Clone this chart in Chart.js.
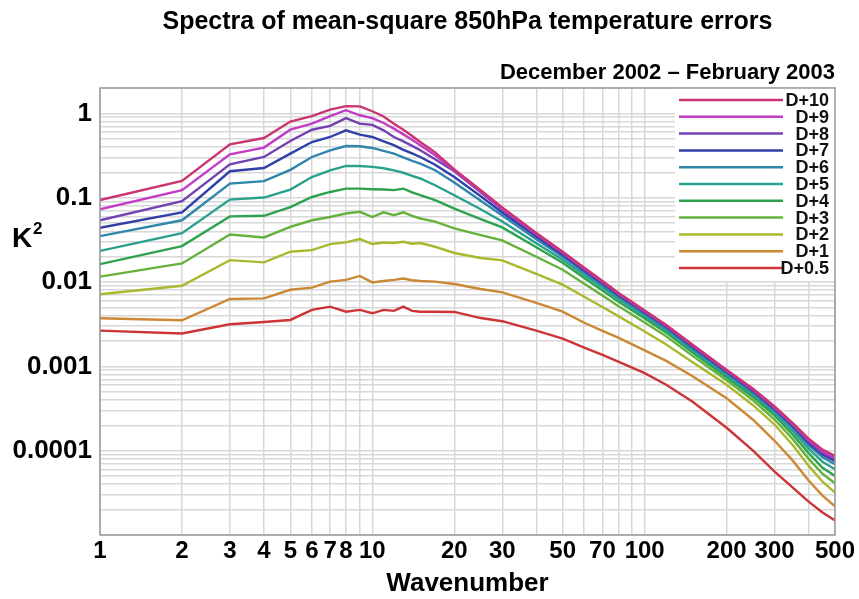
<!DOCTYPE html>
<html>
<head>
<meta charset="utf-8">
<script src="https://cdn.jsdelivr.net/npm/chart.js@4.4.0/dist/chart.umd.min.js"></script>
<style>
  html, body { margin: 0; padding: 0; background: #fff; }
</style>
</head>
<body>
<canvas id="spectra" width="859" height="599"></canvas>
<script>
/*==================== 850hPa temperature error spectra ====================*/
const wavenumbers = [1, 2, 3, 4, 5, 6, 7, 8, 9, 10, 11, 12, 13, 14, 15, 17, 20, 25, 30, 40, 50, 60, 70, 80, 100, 120, 150, 200, 250, 300, 350, 400, 450, 500];

const errD10 = [0.094, 0.158, 0.43, 0.51, 0.80, 0.93, 1.11, 1.22, 1.21, 1.06, 0.92, 0.755, 0.64, 0.54, 0.457, 0.345, 0.217, 0.1227, 0.0766, 0.0383, 0.02284, 0.01476, 0.01027, 0.00747, 0.0046, 0.0031, 0.0018, 0.000909, 0.000542, 0.000334, 0.000212, 0.000139, 0.000103, 0.0000866];
const errD9 = [0.073, 0.123, 0.327, 0.393, 0.641, 0.755, 0.93, 1.09, 0.95, 0.88, 0.77, 0.66, 0.564, 0.486, 0.42, 0.318, 0.2115, 0.1194, 0.0745, 0.03746, 0.0224, 0.01449, 0.0101, 0.00736, 0.00454, 0.00306, 0.00178, 0.000897, 0.000533, 0.000327, 0.000207, 0.000134, 0.0000985, 0.0000825];
const errD8 = [0.054, 0.091, 0.249, 0.304, 0.47, 0.64, 0.71, 0.88, 0.755, 0.73, 0.629, 0.525, 0.466, 0.412, 0.365, 0.2855, 0.206, 0.1162, 0.0725, 0.03646, 0.02193, 0.0142, 0.00991, 0.00722, 0.00445, 0.003, 0.00174, 0.00088, 0.000521, 0.00032, 0.000202, 0.000129, 0.0000943, 0.0000788];
const errD7 = [0.044, 0.067, 0.206, 0.225, 0.333, 0.457, 0.525, 0.63, 0.56, 0.525, 0.466, 0.42, 0.37, 0.336, 0.304, 0.246, 0.176, 0.1042, 0.0668, 0.03455, 0.02104, 0.01371, 0.00959, 0.00701, 0.00436, 0.00294, 0.0017, 0.000861, 0.000509, 0.000311, 0.000195, 0.000124, 0.0000903, 0.0000752];
const errD6 = [0.035, 0.054, 0.147, 0.157, 0.214, 0.304, 0.365, 0.41, 0.407, 0.389, 0.36, 0.333, 0.301, 0.274, 0.254, 0.2115, 0.151, 0.0921, 0.0616, 0.03225, 0.01992, 0.01302, 0.00916, 0.00672, 0.00418, 0.00282, 0.00164, 0.000826, 0.00049, 0.0003, 0.000186, 0.000116, 0.0000834, 0.0000689];
const errD5 = [0.0234, 0.038, 0.095, 0.1005, 0.125, 0.176, 0.211, 0.238, 0.238, 0.232, 0.2235, 0.211, 0.1977, 0.182, 0.169, 0.1406, 0.107, 0.0731, 0.0523, 0.02876, 0.01836, 0.01213, 0.00861, 0.00634, 0.00396, 0.00267, 0.00155, 0.000783, 0.000463, 0.000281, 0.000171, 0.000106, 0.0000738, 0.0000601];
const errD4 = [0.0163, 0.0267, 0.060, 0.061, 0.0775, 0.102, 0.117, 0.128, 0.128, 0.126, 0.125, 0.123, 0.128, 0.116, 0.107, 0.0934, 0.0741, 0.0557, 0.0444, 0.02581, 0.01692, 0.01117, 0.00793, 0.00588, 0.0037, 0.00251, 0.00146, 0.000741, 0.000434, 0.000261, 0.000155, 0.0000935, 0.0000626, 0.00005];
const errD3 = [0.0116, 0.0166, 0.0366, 0.0338, 0.045, 0.054, 0.059, 0.065, 0.068, 0.059, 0.067, 0.062, 0.067, 0.061, 0.0567, 0.052, 0.0432, 0.036, 0.0312, 0.01992, 0.01398, 0.00955, 0.00692, 0.0052, 0.00332, 0.00227, 0.00133, 0.000683, 0.000396, 0.000234, 0.000137, 0.0000805, 0.0000532, 0.0000411];
const errD2 = [0.00715, 0.00904, 0.0182, 0.0171, 0.0229, 0.0239, 0.0282, 0.0295, 0.0323, 0.0282, 0.0294, 0.029, 0.030, 0.0285, 0.029, 0.0262, 0.0221, 0.01926, 0.0181, 0.01252, 0.0093, 0.0067, 0.00506, 0.00394, 0.00259, 0.00182, 0.00112, 0.000604, 0.000346, 0.000204, 0.000116, 0.0000665, 0.0000428, 0.0000319];
const errD1 = [0.00372, 0.00352, 0.0063, 0.0064, 0.0081, 0.00857, 0.0101, 0.0106, 0.0118, 0.0099, 0.0103, 0.0106, 0.011, 0.0105, 0.0103, 0.0101, 0.00947, 0.00826, 0.00755, 0.00567, 0.00445, 0.00329, 0.00263, 0.00219, 0.00155, 0.00116, 0.000762, 0.000418, 0.000233, 0.000131, 0.0000762, 0.0000442, 0.0000293, 0.0000219];
const errD05 = [0.00265, 0.00245, 0.00316, 0.00336, 0.00355, 0.00467, 0.0051, 0.00445, 0.00467, 0.00426, 0.00467, 0.00455, 0.0051, 0.00455, 0.00445, 0.00445, 0.00442, 0.00374, 0.00343, 0.00265, 0.00213, 0.00167, 0.00137, 0.00114, 0.00083, 0.000605, 0.00038, 0.000187, 0.0001, 0.0000564, 0.0000365, 0.0000249, 0.0000185, 0.0000149];

const leadTimes = ['D+10', 'D+9', 'D+8', 'D+7', 'D+6', 'D+5', 'D+4', 'D+3', 'D+2', 'D+1', 'D+0.5'];
const leadColors = ['#cc3372', '#c23cc6', '#7242b2', '#3140a8', '#2f86aa', '#2aa08e', '#2ea24e', '#64b23c', '#aab82e', '#cc8834', '#cc3436'];
const leadSeries = [errD10, errD9, errD8, errD7, errD6, errD5, errD4, errD3, errD2, errD1, errD05];

// axis labels
const xTickLabels = [1, 2, 3, 4, 5, 6, 7, 8, 10, 20, 30, 50, 70, 100, 200, 300, 500];
const yTickValues = [0.0001, 0.001, 0.01, 0.1, 1];
const yTickLabels = ['0.0001', '0.001', '0.01', '0.1', '1'];

const FONT = '"Liberation Sans", Arial, Helvetica, sans-serif';
Chart.defaults.font.family = FONT;
Chart.defaults.color = '#000';

// 1..9 x 10^k grid positions between lo and hi
function logGrid(lo, hi) {
    const out = [];
    for (let k = Math.floor(Math.log10(lo)); k <= Math.ceil(Math.log10(hi)); k++) {
        for (let m = 1; m <= 9; m++) {
            const v = Number((m * Math.pow(10, k)).toPrecision(6));
            if (v >= lo && v <= hi) out.push(v);
        }
    }
    if (out[out.length - 1] < hi) out.push(hi);
    return out;
}

// legend box in the upper right corner of the plot
const cornerLegend = {
    id: 'cornerLegend',
    afterDatasetsDraw(chart) {
        const {ctx, chartArea: a} = chart;
        const left = a.right - 160;
        ctx.save();
        ctx.fillStyle = '#fff';
        ctx.fillRect(left, a.top, a.right - left, 193);
        ctx.font = 'bold 18px ' + FONT;
        ctx.textAlign = 'right';
        ctx.textBaseline = 'middle';
        chart.data.datasets.forEach((ds, i) => {
            const y = a.top + 12 + i * 16.8;
            ctx.strokeStyle = ds.borderColor;
            ctx.lineWidth = 2.5;
            ctx.beginPath();
            ctx.moveTo(left + 4, y);
            ctx.lineTo(a.right - 52, y);
            ctx.stroke();
            ctx.fillStyle = '#111';
            ctx.fillText(ds.label, a.right - 6, y + 1);
        });
        // plot frame
        ctx.strokeStyle = '#9a9a9a';
        ctx.lineWidth = 1.5;
        ctx.strokeRect(a.left, a.top, a.right - a.left, a.bottom - a.top);
        ctx.restore();
    },
    afterDraw(chart) {
        // K^2 written upright beside the y axis
        const ctx = chart.ctx;
        ctx.save();
        ctx.fillStyle = '#000';
        ctx.textBaseline = 'alphabetic';
        ctx.font = 'bold 28px ' + FONT;
        ctx.fillText('K', 12, 247);
        ctx.font = 'bold 17px ' + FONT;
        ctx.fillText('2', 33, 234);
        ctx.restore();
    }
};

const spectraChart = new Chart(document.getElementById('spectra'), {
    type: 'line',
    data: {
        datasets: leadTimes.map((name, i) => ({
            label: name,
            data: wavenumbers.map((n, j) => ({x: n, y: leadSeries[i][j]})),
            borderColor: leadColors[i],
            borderWidth: 2.4,
            pointRadius: 0,
            tension: 0,
            fill: false
        }))
    },
    options: {
        responsive: false,
        animation: false,
        layout: {padding: {left: 0, right: 24, top: 0, bottom: 0}},
        plugins: {
            legend: {display: false},
            tooltip: {enabled: false},
            title: {
                display: true,
                fullSize: false,
                text: 'Spectra of mean-square 850hPa temperature errors',
                font: {size: 25, weight: 'bold'},
                padding: {top: 7, bottom: 22.8}
            },
            subtitle: {
                display: true,
                fullSize: false,
                align: 'end',
                text: 'December 2002 \u2013 February 2003',
                color: '#000',
                font: {size: 22, weight: 'bold'},
                padding: {top: 0, bottom: 1.8}
            }
        },
        scales: {
            x: {
                type: 'logarithmic',
                min: 1,
                max: 500,
                afterBuildTicks(scale) { scale.ticks = logGrid(1, 500).map(v => ({value: v})); },
                afterFit(scale) { scale.height = 64; },
                ticks: {
                    autoSkip: false,
                    maxRotation: 0,
                    padding: 2,
                    font: {size: 24, weight: 'bold'},
                    callback: v => xTickLabels.includes(v) ? String(v) : ''
                },
                grid: {color: '#d8d8d8', lineWidth: 1.5, drawTicks: false},
                border: {display: false},
                title: {
                    display: true,
                    text: 'Wavenumber',
                    font: {size: 26, weight: 'bold'},
                    padding: {top: 0, bottom: 0}
                }
            },
            y: {
                type: 'logarithmic',
                min: 0.00001,
                max: 2,
                afterBuildTicks(scale) { scale.ticks = logGrid(0.00001, 2).map(v => ({value: v})); },
                afterFit(scale) { scale.width = 100; },
                ticks: {
                    autoSkip: false,
                    padding: 8,
                    font: {size: 26, weight: 'bold'},
                    callback: v => {
                        const k = yTickValues.findIndex(t => Math.abs(Math.log10(v / t)) < 1e-6);
                        return k >= 0 ? yTickLabels[k] : '';
                    }
                },
                grid: {color: '#d8d8d8', lineWidth: 1.5, drawTicks: false},
                border: {display: false}
            }
        }
    },
    plugins: [cornerLegend]
});
</script>
</body>
</html>
